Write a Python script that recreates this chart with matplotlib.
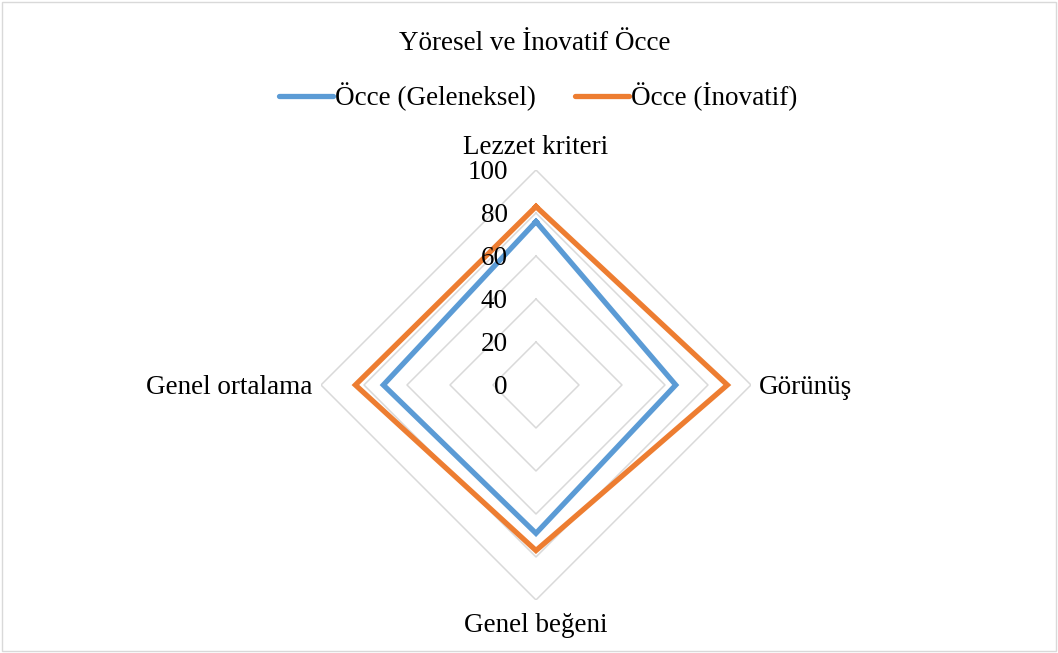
import numpy as np
import matplotlib.pyplot as plt
from matplotlib.patches import Rectangle

plt.rcParams['font.family'] = ['Liberation Serif', 'DejaVu Serif']

# veriler
kategoriler = ['Lezzet kriteri', 'Görünüş', 'Genel beğeni', 'Genel ortalama']
geleneksel = [76, 65, 69, 71]
inovatif = [83, 89, 77, 84]
halkalar = [20, 40, 60, 80, 100]
halka_etiket = ['0', '20', '40', '60', '80', '100']

fs = 19.5
aci = np.linspace(0, 2 * np.pi, len(kategoriler), endpoint=False)
aci_k = np.append(aci, aci[0])

fig = plt.figure(figsize=(10.58, 6.53), dpi=100)
fig.patches.append(Rectangle((0.002, 0.003), 0.996, 0.994, transform=fig.transFigure,
                             fill=False, edgecolor='#d9d9d9', linewidth=1.0))

ax = fig.add_axes([0.3034, 0.0812, 0.4064, 0.6585], projection='polar')
ax.set_theta_offset(np.pi / 2)
ax.set_theta_direction(-1)
ax.set_ylim(0, 100)
ax.grid(False)
ax.spines['polar'].set_visible(False)
ax.set_yticks([])
ax.set_xticks([])

# poligon ızgara
for h in halkalar:
    ax.plot(aci_k, [h] * len(aci_k), color='#d9d9d9', lw=1.1, zorder=1)

ax.plot(aci_k, geleneksel + geleneksel[:1], color='#5b9bd5', lw=3.8,
        solid_joinstyle='miter', label='Öcce (Geleneksel)', zorder=3)
ax.plot(aci_k, inovatif + inovatif[:1], color='#ed7d31', lw=3.8,
        solid_joinstyle='miter', label='Öcce (İnovatif)', zorder=3)

# eksen değerleri
for i, lab in enumerate(halka_etiket):
    ax.annotate(lab, xy=(0, i * 20), xytext=(-28, -3), textcoords='offset pixels',
                ha='right', va='center', fontsize=fs, color='#000000')

# kategori etiketleri
yer = [((0, 22), 'center'), ((8, -3), 'left'), ((0, -26), 'center'), ((-9, -3), 'right')]
for a, k, (off, ha) in zip(aci, kategoriler, yer):
    ax.annotate(k, xy=(a, 100), xytext=off, textcoords='offset pixels',
                ha=ha, va='center', fontsize=fs)

fig.text(535 / 1058, 1 - 43 / 653, 'Yöresel ve İnovatif Öcce', ha='center', va='center', fontsize=fs)
leg = fig.legend(loc='center', bbox_to_anchor=(538 / 1058, 1 - 97 / 653), ncol=2, frameon=False,
                 fontsize=fs, handlelength=2.0, handletextpad=0.07, columnspacing=1.45)
for l in leg.get_lines():
    l.set_solid_capstyle('round')

fig.savefig('out.png', dpi=100)
